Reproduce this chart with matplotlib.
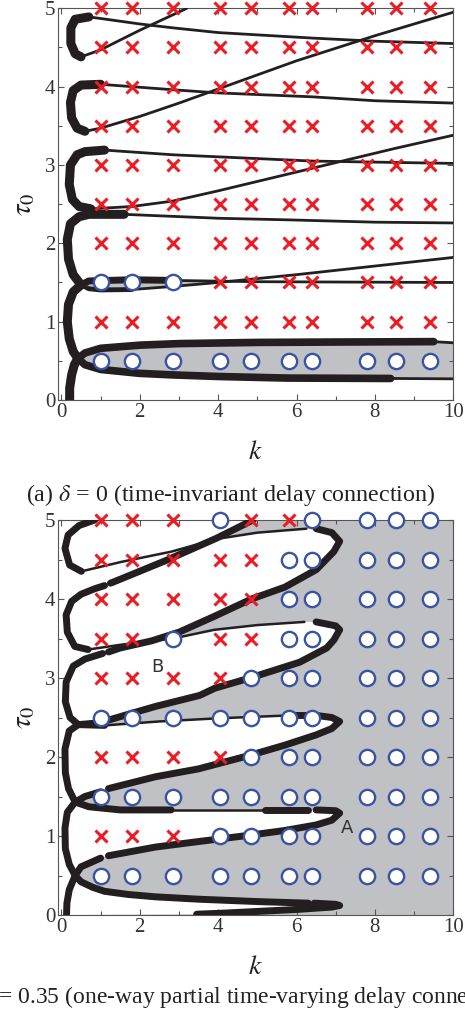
import numpy as np
import matplotlib
matplotlib.use("Agg")
import matplotlib.pyplot as plt

plt.rcParams['font.family'] = ['Liberation Serif', 'DejaVu Serif']
plt.rcParams['mathtext.fontset'] = 'stix'

BLACK = "#231f20"
RED = "#ed1c24"
BLUE = "#3953a4"
GRAY = "#c0c1c4"

# simulation grid
k_grid = [1.0, 1.8, 2.85, 4.05, 4.85, 5.8, 6.4, 7.8, 8.55, 9.4]
tau_rows = [5.0, 4.5, 4.0, 3.5, 3.0, 2.5, 2.0, 1.5, 1.0, 0.5]
# o = stable, x = unstable
stab_a = ["xxxxxxxxxx", "xxxxxxxxxx", "xxxxxxxxxx", "xxxxxxxxxx", "xxxxxxxxxx",
          "xxxxxxxxxx", "xxxxxxxxxx", "oooxxxxxxx", "xxxxxxxxxx", "oooooooooo"]
stab_b = ["xxxoxxoooo", "xxxxxooooo", "xxxxxooooo", "xxoxxooooo", "xxxxoooooo",
          "oooooooooo", "xxxxoooooo", "oooooooooo", "xxxooooooo", "oooooooooo"]

# ---- (a) delta = 0 : boundary curves (k, tau0) ----
a_spine = [(0.21, 0.0), (0.21, 0.15), (0.26, 0.32), (0.33, 0.45), (0.42, 0.53)]
a_c0 = [(0.42, 0.53), (0.3, 0.62), (0.2, 0.78), (0.15, 1.0), (0.18, 1.22), (0.3, 1.38), (0.5, 1.47)]
a_c1 = [(0.5, 1.47), (0.3, 1.6), (0.18, 1.8), (0.15, 2.05), (0.23, 2.25), (0.45, 2.34), (0.7, 2.37), (1.6, 2.37)]
a_c1_tail = [(1.6, 2.37), (4.0, 2.32), (5.75, 2.30), (8.0, 2.27), (10.0, 2.26)]
a_c2 = [(0.75, 2.44), (0.45, 2.47), (0.28, 2.56), (0.2, 2.75), (0.23, 3.0), (0.4, 3.13), (0.6, 3.17), (1.1, 3.19)]
a_c2_tail = [(1.1, 3.19), (2.85, 3.13), (6.4, 3.05), (10.0, 3.02)]
a_c2_rise = [(0.75, 2.44), (1.8, 2.47), (2.85, 2.54), (4.0, 2.67), (5.5, 2.85), (7.0, 3.03), (8.5, 3.21), (10.0, 3.38)]
a_c3 = [(0.6, 3.43), (0.4, 3.47), (0.26, 3.6), (0.23, 3.8), (0.3, 3.95), (0.5, 4.02), (1.0, 4.03)]
a_c3_tail = [(1.0, 4.03), (2.85, 3.96), (4.0, 3.92), (6.4, 3.87), (8.0, 3.82), (10.0, 3.79)]
a_c3_rise = [(0.6, 3.43), (1.0, 3.47), (2.0, 3.62), (3.0, 3.79), (4.0, 3.97), (6.0, 4.33), (8.0, 4.65), (10.0, 4.95)]
a_c4 = [(0.5, 4.38), (0.35, 4.42), (0.24, 4.55), (0.24, 4.75), (0.35, 4.86), (0.7, 4.89)]
a_c4_tail = [(0.7, 4.89), (1.0, 4.87), (2.0, 4.8), (2.85, 4.75), (4.0, 4.69), (6.4, 4.62), (8.0, 4.58), (10.0, 4.55)]
a_c4_rise = [(0.5, 4.38), (1.0, 4.47), (2.0, 4.72), (3.2, 5.0)]
a_up0 = [(0.42, 0.53), (0.6, 0.6), (1.0, 0.66), (2.0, 0.7), (3.0, 0.72), (5.0, 0.735), (7.0, 0.74), (9.5, 0.745)]
a_up0_tail = [(9.5, 0.745), (10.0, 0.73)]
a_lo0 = [(0.42, 0.53), (0.6, 0.45), (1.0, 0.39), (2.0, 0.34), (2.85, 0.32), (4.0, 0.3), (5.75, 0.28), (8.4, 0.275)]
a_lo0_tail = [(8.4, 0.275), (10.0, 0.27)]
a_up1 = [(0.5, 1.47), (0.7, 1.52), (1.8, 1.535), (3.0, 1.525)]
a_up1_tail = [(3.0, 1.525), (5.0, 1.51), (10.0, 1.5)]
a_lo1 = [(0.5, 1.47), (0.7, 1.42), (1.0, 1.405), (1.8, 1.41)]
a_lo1_tail = [(1.8, 1.41), (2.85, 1.45), (4.0, 1.5), (6.0, 1.6), (8.0, 1.71), (10.0, 1.82)]

# ---- (b) delta = 0.35 ----
b_spine = [(0.13, 0.0), (0.14, 0.15), (0.2, 0.32), (0.35, 0.5)]
b_c1 = [(0.35, 0.5), (0.2, 0.64), (0.1, 0.84), (0.09, 1.1), (0.15, 1.3), (0.35, 1.43)]
b_c2 = [(0.35, 1.43), (0.18, 1.6), (0.1, 1.8), (0.09, 2.1), (0.2, 2.33), (0.43, 2.41)]
b_c3 = [(0.43, 2.41), (0.22, 2.5), (0.1, 2.7), (0.12, 2.95), (0.3, 3.15), (0.6, 3.24), (1.05, 3.31)]
b_c4 = [(0.68, 3.36), (0.34, 3.40), (0.15, 3.58), (0.12, 3.8), (0.26, 3.97), (0.5, 4.06), (0.85, 4.13), (1.1, 4.17)]
b_c4_arm = [(1.25, 4.2), (1.5, 4.25), (2.68, 4.49), (3.96, 4.77), (4.89, 5.0)]
b_c5 = [(0.85, 5.0), (0.45, 4.93), (0.17, 4.81), (0.09, 4.64), (0.21, 4.43), (0.51, 4.35)]
b_n0_up = [(0.35, 0.5), (0.5, 0.42), (0.8, 0.35), (1.1, 0.3), (1.7, 0.26), (2.4, 0.23), (3.5, 0.2), (5.0, 0.17), (6.3, 0.15)]
b_n0_nose = [(6.45, 0.15), (7.0, 0.135), (7.1, 0.12), (6.9, 0.1), (6.0, 0.07), (5.0, 0.045), (4.2, 0.025), (3.45, 0.01)]
b_n1_lo = [(0.35, 0.5), (0.5, 0.61), (1.0, 0.72)]
b_n1_lo2 = [(1.2, 0.75), (2.4, 0.86), (3.5, 0.93), (4.8, 1.01), (5.7, 1.07), (6.5, 1.14), (6.9, 1.2), (7.1, 1.29), (7.0, 1.32), (6.5, 1.33)]
b_n1_up = [(6.3, 1.33), (5.2, 1.33)]
b_n1_thin = [(5.2, 1.33), (2.8, 1.33)]
b_n1_up2 = [(2.8, 1.33), (1.5, 1.33), (0.7, 1.37), (0.35, 1.43)]
b_n2_lo = [(0.35, 1.43), (0.6, 1.5), (1.0, 1.56)]
b_n2_lo2 = [(1.2, 1.6), (2.4, 1.75), (3.5, 1.85), (4.8, 2.02), (5.7, 2.15), (6.5, 2.28), (6.9, 2.36), (7.1, 2.45), (6.9, 2.5), (6.45, 2.53)]
b_n2_up = [(6.25, 2.53), (5.9, 2.53)]
b_n2_thin = [(5.9, 2.53), (5.5, 2.52), (4.0, 2.49), (2.5, 2.45), (1.1, 2.4)]
b_n2_up2 = [(1.1, 2.4), (0.43, 2.41)]
b_n3_lo = [(0.43, 2.41), (0.9, 2.43)]
b_n3_lo2 = [(1.15, 2.46), (1.7, 2.54), (2.4, 2.64), (3.53, 2.78), (3.91, 2.87), (4.81, 3.0), (6.08, 3.2), (6.77, 3.38), (6.95, 3.48), (7.1, 3.61), (7.0, 3.66), (6.5, 3.71)]
b_n3_thin = [(6.2, 3.71), (5.0, 3.67), (3.9, 3.61), (2.85, 3.5), (1.5, 3.42), (0.68, 3.36)]
b_n4_lo = [(1.2, 3.33), (1.5, 3.38), (2.3, 3.47), (3.0, 3.58), (3.9, 3.78), (4.85, 4.0), (5.7, 4.15), (6.5, 4.37), (6.95, 4.6), (7.1, 4.73), (6.9, 4.84), (6.5, 4.89)]
b_n4_thin = [(6.25, 4.89), (5.0, 4.84), (3.96, 4.76), (2.81, 4.6), (1.53, 4.47), (0.51, 4.35)]


def curve(ax, pts, lw):
    p = np.array(pts)
    ax.plot(p[:, 0], p[:, 1], color=BLACK, lw=lw, solid_capstyle='round', zorder=3)


def shade(ax, pts, color):
    p = np.array(pts)
    ax.fill(p[:, 0], p[:, 1], color=color, lw=0, zorder=1)


def markers(ax, rows):
    for tau, row in zip(tau_rows, rows):
        for k, s in zip(k_grid, row):
            if s == 'x':
                ax.plot(k, tau, 'x', color=RED, ms=8, mew=2.2, zorder=5, clip_on=False)
            else:
                ax.plot(k, tau, 'o', mfc='white', mec=BLUE, ms=11, mew=1.7, zorder=5, clip_on=False)


def style(ax):
    ax.set_xlim(-0.08, 10)
    ax.set_ylim(0, 5)
    ax.set_xticks(np.arange(0, 11, 2))
    ax.set_xticks(np.arange(1, 10, 2), minor=True)
    ax.set_yticks(np.arange(0, 6, 1))
    ax.set_yticks(np.arange(0.5, 5, 1), minor=True)
    ax.tick_params(which='both', direction='in', top=True, right=True, colors='#555555',
                   labelcolor='#333333', labelsize=15, width=0.8)
    ax.tick_params(which='major', length=4, pad=2)
    ax.tick_params(which='minor', length=3)
    for s in ax.spines.values():
        s.set_color('#555555')
        s.set_linewidth(0.8)
    ax.set_xlabel('$k$', fontsize=20, color='#222222', labelpad=13)
    ax.set_ylabel(r'$\tau_0$', fontsize=21, color='#222222', labelpad=6)


fig = plt.figure(figsize=(4.65, 10.25), dpi=100)

# ---------- panel (a) ----------
ax1 = fig.add_axes([58.3 / 465, 1 - 400 / 1025, 395 / 465, 391.7 / 1025])
shade(ax1, a_up0 + a_up0_tail + (a_lo0 + a_lo0_tail)[::-1], GRAY)
shade(ax1, a_up1 + [(4.0, 1.515)] + (a_lo1 + [(2.85, 1.45), (4.0, 1.5)])[::-1], GRAY)
for c in [a_c1_tail, a_c2_tail, a_c2_rise, a_c3_tail, a_c3_rise, a_c4_tail, a_c4_rise,
          a_up0_tail, a_lo0_tail, a_up1_tail, a_lo1_tail]:
    curve(ax1, c, 2.0)
curve(ax1, a_lo1, 3.5)
curve(ax1, a_up1, 5)
curve(ax1, a_up0, 5.5)
curve(ax1, a_lo0, 5.5)
for c in [a_spine, a_c0, a_c1, a_c2, a_c3, a_c4]:
    curve(ax1, c, 6.5)
markers(ax1, stab_a)
style(ax1)

# ---------- panel (b) ----------
ax2 = fig.add_axes([58.3 / 465, 1 - 915 / 1025, 395 / 465, 395 / 1025])
ax2.add_patch(plt.Rectangle((0, 0), 10, 5, color=GRAY, lw=0, zorder=0))
white = ([(-0.1, 0.0)] + b_n0_nose[::-1] + b_n0_up[::-1] + b_n1_lo + b_n1_lo2
         + b_n1_up + b_n1_up2 + b_n2_lo + b_n2_lo2
         + b_n2_up + b_n2_thin + b_n2_up2 + b_n3_lo + b_n3_lo2
         + b_n3_thin[:4] + b_n4_lo[3:] + b_n4_thin[:3] + [(4.89, 5.0), (-0.1, 5.0)])
shade(ax2, white, 'white')
for c in [b_n1_thin, b_n2_thin, b_n3_thin, b_n4_thin]:
    curve(ax2, c, 1.8)
for c in [b_spine, b_c1, b_c2, b_c3, b_c4, b_c4_arm, b_c5, b_n0_up, b_n0_nose, b_n1_lo, b_n1_lo2,
          b_n1_up, b_n1_up2, b_n2_lo, b_n2_lo2, b_n2_up, b_n2_up2, b_n3_lo, b_n3_lo2, b_n4_lo]:
    curve(ax2, c, 5)
markers(ax2, stab_b)
ax2.text(7.3, 1.1, 'A', fontsize=13, family='DejaVu Sans', color='#333333', ha='center', va='center', zorder=6)
ax2.text(2.46, 3.14, 'B', fontsize=13, family='DejaVu Sans', color='#333333', ha='center', va='center', zorder=6)
style(ax2)

fig.text(231 / 465, 1 - 495 / 1025, r'(a) $\delta$ = 0 (time-invariant delay connection)',
         ha='center', va='center', fontsize=17.3, color='#222222')
fig.text(236 / 465, 1 - 997 / 1025, r'(b) $\delta$ = 0.35 (one-way partial time-varying delay connection)',
         ha='center', va='center', fontsize=17, color='#222222')

fig.savefig('out.png', dpi=100)
